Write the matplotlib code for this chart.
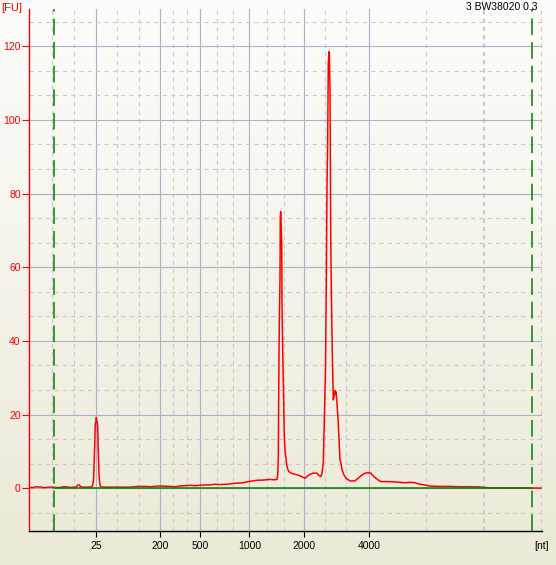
import numpy as np
import matplotlib
matplotlib.use('Agg')
import matplotlib.pyplot as plt

plt.rcParams['font.family'] = ['Liberation Sans', 'DejaVu Sans']
plt.rcParams['lines.scale_dashes'] = False

# ladder markers (position on the run axis -> size in nt)
ladder_nt = ['25', '200', '500', '1000', '2000', '4000']
ladder_pos = [96.3, 160.3, 200.3, 249.3, 304.3, 369.3]
minor_pos = [51.7, 74, 117.3, 138.7, 173.3, 187, 216.7, 233, 267.3, 284,
             325.3, 346.3, 426.3, 540.7]
thick_pos = 484
marker_lo, marker_hi = 53.5, 532.3

# electropherogram trace (position, fluorescence units)
trace_pos = [29, 33, 36, 38, 40, 42, 46, 50, 53, 56, 60, 63, 66, 70, 74, 76, 78, 79.5, 80.5,
             84, 88, 92, 93, 93.7, 94.7, 95.3, 96, 96.3, 97, 97.7, 98.3, 99, 99.7, 100.5,
             105, 110, 120, 130, 138, 145, 150, 158, 162, 170, 175, 180, 190, 195, 200,
             205, 210, 215, 220, 228, 233, 238, 243, 248, 253, 258, 262, 266, 270, 274,
             277, 277.7, 278.3, 278.7, 279.3, 280, 280.3, 280.7, 281.3, 281.7, 282, 282.7,
             283, 283.7, 284.3, 285, 285.7, 286.7, 288, 289, 291, 295, 300, 303, 305, 307,
             310, 313, 317, 319, 321, 322, 323.3, 324.5, 325.5, 326.3, 327, 327.7, 328.3,
             329, 329.3, 329.7, 330, 330.4, 330.7, 331.3, 332.3, 332.8, 333.3, 334, 335,
             335.6, 336, 337, 338, 339, 340, 341, 342, 344, 346, 350, 355, 358, 362, 365,
             368, 371, 373, 376, 379, 381, 385, 390, 395, 400, 405, 410, 415, 418, 422,
             425, 430, 440, 450, 460, 470, 480, 485, 490, 500, 510, 520, 541]
trace_fu = [0.2, 0.2, 0.4, 0.3, 0.4, 0.2, 0.2, 0.3, 0.3, 0.2, 0.2, 0.4, 0.4, 0.2, 0.3, 0.3, 0.9, 0.9, 0.4,
            0.3, 0.3, 0.4, 1.2, 3.2, 11.5, 17.5, 18.1, 19.2, 18.1, 16.7, 9.7, 3.9, 1.4, 0.4,
            0.3, 0.3, 0.3, 0.3, 0.5, 0.5, 0.4, 0.6, 0.6, 0.5, 0.4, 0.6, 0.8, 0.7, 0.8,
            0.9, 0.9, 1.1, 1.0, 1.1, 1.3, 1.4, 1.5, 1.8, 2.0, 2.2, 2.2, 2.3, 2.4, 2.3,
            2.4, 3.5, 8, 25.4, 45, 56.8, 73.7, 75.1, 70, 66.7, 49.4, 38,
            33, 24, 14, 10.4, 8.6, 6.3, 5.0, 4.5, 4.1, 3.8, 3.4, 3.0, 2.7, 3.2,
            3.8, 4.1, 4.1, 3.4, 3.2, 4.1, 6.8, 20, 32, 55, 82, 95, 115.4,
            118.5, 118.5, 112, 109, 85, 70, 53.8, 36.6, 30, 24, 24.9, 26.5,
            25.5, 26.2, 23, 19, 13.1, 7.7, 6.8, 5.0, 3.6, 2.7, 2.0, 2.0, 2.7, 3.6, 4.1,
            4.2, 4.1, 3.4, 2.7, 2.1, 1.8, 1.8, 1.8, 1.7, 1.6, 1.5, 1.6, 1.5, 1.2, 1.0,
            0.9, 0.6, 0.5, 0.5, 0.4, 0.4, 0.35, 0.2, 0.1, 0.1, 0.05, 0.05, 0.05]

# baseline fit
base_pos = [53.5, 293, 293, 532.3]
base_fu = [0, 0, 0.15, 0.15]

fig = plt.figure(figsize=(5.56, 5.65), dpi=100)

# background gradient
bg = fig.add_axes([0, 0, 1, 1], zorder=-10)
grad = np.linspace(0, 1, 256).reshape(-1, 1)
top = np.array([0.992, 0.992, 0.984])
bot = np.array([0.925, 0.914, 0.847])
img = top + (bot - top) * grad[:, :, None]
bg.imshow(img, aspect='auto', extent=[0, 1, 0, 1])
bg.axis('off')

ax = fig.add_axes([29.3 / 556, 34 / 565, 512.2 / 556, 521.7 / 565])
ax.set_facecolor('none')

ax.set_xlim(29.3, 541.5)
ax.set_ylim(-11.6, 130)

ax.set_xticks(ladder_pos, ladder_nt)
ax.set_xticks(minor_pos, minor=True)
ax.set_yticks(np.arange(0, 121, 20))
ax.set_yticks(np.arange(-20 / 3, 130, 20 / 3), minor=True)

ax.grid(which='major', color='#aab3c6', linewidth=0.8, zorder=0)
ax.grid(which='minor', color='#c8c8c8', linewidth=0.8, linestyle=(0, (3, 3)), zorder=0)
ax.axvline(thick_pos, color='#c8c8c8', linewidth=1.5, linestyle=(0, (3, 3)), zorder=0)
ax.set_axisbelow(True)

for spine in ['top', 'right']:
    ax.spines[spine].set_visible(False)
ax.spines['left'].set_color('red')
ax.spines['left'].set_linewidth(1.0)
ax.spines['bottom'].set_color('black')
ax.spines['bottom'].set_linewidth(1.0)

ax.tick_params(axis='y', which='major', colors='red', labelcolor='red', length=4.7, width=0.8,
               pad=1.5, labelsize=7.5)
ax.tick_params(axis='x', which='major', colors='black', length=4.3, width=0.8, pad=3,
               labelsize=7.5)
ax.tick_params(which='minor', length=0)

ax.plot(trace_pos, trace_fu, color='red', linewidth=1.1, zorder=3)
ax.plot(base_pos, base_fu, color='green', linewidth=1.1, zorder=4)

for m in [marker_lo, marker_hi]:
    ax.axvline(m, color='green', linewidth=1.1, linestyle=(0, (12, 5)), zorder=4)

fig.text(1 / 556, 1 - 3 / 565, '[FU]', color='red', fontsize=8, ha='left', va='top')
fig.text(537 / 556, 1 - 2.5 / 565, '3 BW38020 0.3', color='black', fontsize=7.5,
         ha='right', va='top')
fig.text(541.7 / 556, 1 - 546 / 565, '[nt]', color='black', fontsize=7.5,
         ha='center', va='center')

fig.savefig('out.png', dpi=100)
